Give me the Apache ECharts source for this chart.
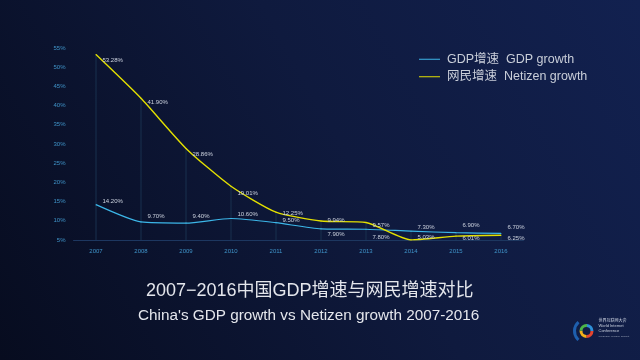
<!DOCTYPE html>
<html><head><meta charset="utf-8">
<script src="https://cdn.jsdelivr.net/npm/echarts@6/dist/echarts.min.js"></script>
<style>html,body{margin:0;padding:0;background:#0c1530;}#c{width:640px;height:360px;}</style>
</head><body><div id="c"></div>
<script>
var years = ['2007','2008','2009','2010','2011','2012','2013','2014','2015','2016'];
var gdpGrowth = [14.20, 9.70, 9.40, 10.60, 9.50, 7.90, 7.80, 7.30, 6.90, 6.70];
var netizenGrowth = [53.28, 41.90, 28.86, 19.01, 12.25, 9.94, 9.57, 5.03, 6.01, 6.25];
var yTicks = [5, 10, 15, 20, 25, 30, 35, 40, 45, 50, 55];
// label vertical nudges (style only)
var gdpLabelDy = [-3, -6, -7, -4, -2, 5, 8, -4, -7, -6];
var netLabelDy = [6, 4, 6, 7, 1, -1, 3, -3, 2, 3];

var chart = echarts.init(document.getElementById('c'), null, {renderer: 'canvas'});
function withLabels(vals, dys) {
  return vals.map(function (v, i) {
    return {value: v, label: {offset: [0, dys[i]]}};
  });
}
var dropVals = gdpGrowth.map(function (v, i) { return Math.max(v, netizenGrowth[i]); });
var labelStyle = {show: true, position: 'right', distance: 6, color: '#ccd2de', fontSize: 6,
  fontFamily: 'Liberation Sans, Arial, sans-serif',
  formatter: function (p) { return p.value.toFixed(2) + '%'; }};

chart.setOption({
  backgroundColor: new echarts.graphic.LinearGradient(1, 0, 0, 1, [
    {offset: 0, color: '#122150'},
    {offset: 0.45, color: '#0f1a3e'},
    {offset: 1, color: '#070c1f'}
  ]),
  animation: false,
  title: [
    {text: '2007−2016中国GDP增速与网民增速对比', left: 141, top: 277,
     textStyle: {color: '#e4e6ec', fontSize: 18, fontWeight: 'normal', fontFamily: 'Liberation Sans, Noto Sans CJK SC, sans-serif'}},
    {text: "China's GDP growth vs Netizen growth 2007-2016", left: 133, top: 303,
     textStyle: {color: '#e4e6ec', fontSize: 15.3, fontWeight: 'normal', fontFamily: 'Liberation Sans, Arial, sans-serif'}}
  ],
  legend: {
    orient: 'vertical', left: 414, top: 48, itemWidth: 21, itemHeight: 10, itemGap: 5,
    icon: 'path://M0,4.5L21,4.5L21,5.5L0,5.5Z',
    textStyle: {color: '#c9ced9', fontSize: 12.5, fontFamily: 'Liberation Sans, Noto Sans CJK SC, sans-serif', padding: [0, 0, 0, 2]},
    data: ['GDP增速  GDP growth', '网民增速  Netizen growth']
  },
  grid: {left: 73.5, right: 116.5, top: 48, bottom: 120},
  xAxis: {
    type: 'category', data: years, boundaryGap: true,
    axisLine: {lineStyle: {color: '#1d3760', width: 1}},
    axisTick: {show: false},
    axisLabel: {color: '#3f93c8', fontSize: 6, margin: 8, fontFamily: 'Liberation Sans, Arial, sans-serif'}
  },
  yAxis: {
    type: 'value', min: yTicks[0], max: yTicks[yTicks.length - 1], interval: 5,
    axisLine: {show: false}, axisTick: {show: false}, splitLine: {show: false},
    axisLabel: {color: '#3f93c8', fontSize: 6, margin: 8, fontFamily: 'Liberation Sans, Arial, sans-serif',
      formatter: function (v) { return v + '%'; }}
  },
  series: [
    {type: 'bar', data: dropVals, barWidth: 1, silent: true, z: 1,
     itemStyle: {color: '#18304f'}, legendHoverLink: false},
    {name: 'GDP增速  GDP growth', type: 'line', data: withLabels(gdpGrowth, gdpLabelDy),
     smooth: 0.2, symbol: 'circle', symbolSize: 1, showSymbol: true, z: 3,
     lineStyle: {color: '#3cb6e8', width: 1.2}, itemStyle: {color: '#3cb6e8'},
     label: labelStyle},
    {name: '网民增速  Netizen growth', type: 'line', data: withLabels(netizenGrowth, netLabelDy),
     smooth: 0.2, symbol: 'circle', symbolSize: 1, showSymbol: true, z: 3,
     lineStyle: {color: '#e3e000', width: 1.4}, itemStyle: {color: '#e3e000'},
     label: labelStyle}
  ],
  graphic: [
    {type: 'group', left: 572, top: 318, children: [
      {type: 'arc', shape: {cx: 12, cy: 14, r: 12, startAngle: -2.3, endAngle: 2.3, clockwise: false},
       style: {stroke: '#1e5fae', lineWidth: 3, fill: null}},
      {type: 'sector', shape: {cx: 12, cy: 14, r: 7, r0: 4, startAngle: 0, endAngle: 1.6}, style: {fill: '#e4442f'}},
      {type: 'sector', shape: {cx: 12, cy: 14, r: 7, r0: 4, startAngle: 1.6, endAngle: 3.2}, style: {fill: '#f2b21b'}},
      {type: 'sector', shape: {cx: 12, cy: 14, r: 7, r0: 4, startAngle: 3.2, endAngle: 4.8}, style: {fill: '#4cb548'}},
      {type: 'sector', shape: {cx: 12, cy: 14, r: 7, r0: 4, startAngle: 4.8, endAngle: 6.3}, style: {fill: '#2d8fd8'}},
      {type: 'text', left: 24, top: 1, style: {text: '世界互联网大会', fill: '#c9d0de', fontSize: 4, fontFamily: 'Noto Sans CJK SC'}},
      {type: 'text', left: 24, top: 7, style: {text: 'World Internet\nConference', fill: '#c9d0de', fontSize: 4, lineHeight: 4.5, fontFamily: 'Liberation Sans'}},
      {type: 'text', left: 24, top: 18, style: {text: 'WUZHEN  Wuzhen Summit', fill: '#9aa4b8', fontSize: 2.5, fontFamily: 'Liberation Sans'}}
    ]}
  ]
});
</script></body></html>
